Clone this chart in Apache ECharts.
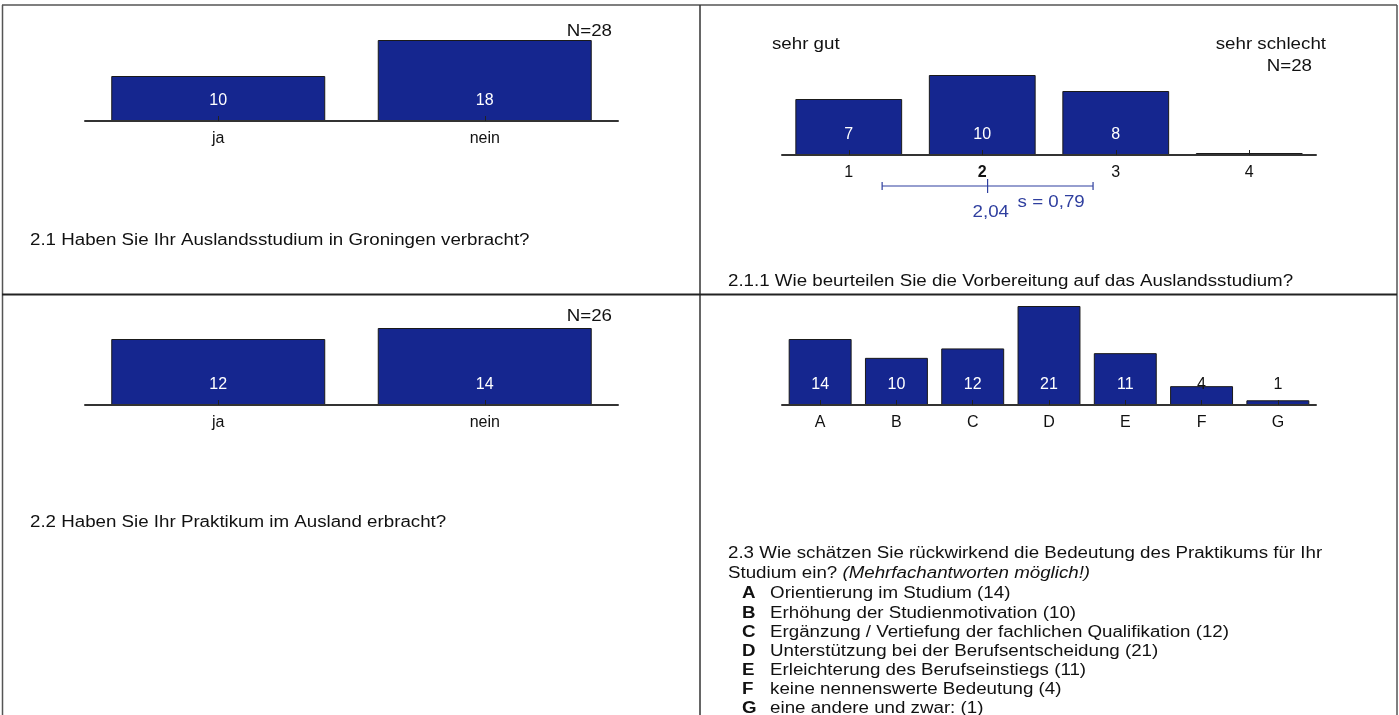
<!DOCTYPE html>
<html>
<head>
<meta charset="utf-8">
<script src="https://cdn.jsdelivr.net/npm/echarts@6/dist/echarts.min.js"></script>
<style>
html,body{margin:0;padding:0;background:#fff;}
#chart{width:1399px;height:715px;}
</style>
</head>
<body>
<div id="chart"></div>
<script>
// ---- data ----
const q21Title = '2.1 Haben Sie Ihr Auslandsstudium in Groningen verbracht?';
const q21Cats = ['ja', 'nein'];
const q21Vals = [10, 18];
const q21N = 'N=28';

const q211Title = '2.1.1 Wie beurteilen Sie die Vorbereitung auf das Auslandsstudium?';
const q211Cats = ['1', '2', '3', '4'];
const q211Vals = [7, 10, 8, 0];
const q211N = 'N=28';
const q211Left = 'sehr gut';
const q211Right = 'sehr schlecht';
const q211Mean = 2.04;
const q211Sd = 0.79;
const q211MeanLabel = '2,04';
const q211SdLabel = 's = 0,79';

const q22Title = '2.2 Haben Sie Ihr Praktikum im Ausland erbracht?';
const q22Cats = ['ja', 'nein'];
const q22Vals = [12, 14];
const q22N = 'N=26';

const q23TitleLine1 = '2.3 Wie schätzen Sie rückwirkend die Bedeutung des Praktikums für Ihr';
const q23TitleLine2a = 'Studium ein? ';
const q23TitleLine2b = '(Mehrfachantworten möglich!)';
const q23Cats = ['A', 'B', 'C', 'D', 'E', 'F', 'G'];
const q23Vals = [14, 10, 12, 21, 11, 4, 1];
const q23Texts = [
  'Orientierung im Studium (14)',
  'Erhöhung der Studienmotivation (10)',
  'Ergänzung / Vertiefung der fachlichen Qualifikation (12)',
  'Unterstützung bei der Berufsentscheidung (21)',
  'Erleichterung des Berufseinstiegs (11)',
  'keine nennenswerte Bedeutung (4)',
  'eine andere und zwar: (1)'
];

// ---- styling ----
const FONT = '"Liberation Sans", Arial, Helvetica, sans-serif';
const FS = 16;
const SX = 1.17;           // horizontal stretch of the text in the reference
const BAR = '#15268F';
const TXT = '#111';
const BLUE = '#2f3f9f';

const chart = echarts.init(document.getElementById('chart'), null, {renderer: 'canvas'});

function catAxis(gridIndex, cats, boldIdx) {
  return {
    type: 'category', gridIndex: gridIndex, z: 5,
    data: cats.map((c, i) => i === boldIdx ? {value: c, textStyle: {fontWeight: 'bold'}} : c),
    axisLine: {show: true, lineStyle: {color: '#333', width: 2}},
    axisTick: {show: true, alignWithLabel: true, inside: true, length: 5, lineStyle: {color: '#222', width: 1}},
    axisLabel: {color: TXT, fontSize: FS, fontFamily: FONT, margin: 10},
    splitLine: {show: false}
  };
}
function valAxis(gridIndex, max) {
  return {type: 'value', gridIndex: gridIndex, min: 0, max: max, show: false, splitLine: {show: false}};
}
function barSeries(idx, vals, gap, darkBelow) {
  return {
    type: 'bar', xAxisIndex: idx, yAxisIndex: idx, barCategoryGap: gap, barMinHeight: 2,
    data: vals.map(v => ({
      value: v,
      label: {color: (darkBelow && v < darkBelow) ? '#111' : '#fff'}
    })),
    itemStyle: {color: BAR, borderColor: '#1a1a1a', borderWidth: 1},
    label: {
      show: true, position: 'insideBottom', distance: 12,
      fontSize: FS, fontFamily: FONT,
      formatter: p => (p.value === 0 ? '' : String(p.value))
    },
    emphasis: {disabled: true},
    silent: true, animation: false
  };
}

function txt(x, y, text, align, extra) {
  return {
    type: 'text', x: x, y: y, scaleX: SX,
    style: Object.assign({text: text, fontSize: FS, fontFamily: FONT, fill: TXT, align: align || 'left', verticalAlign: 'middle'}, extra || {})
  };
}
function ln(x1, y1, x2, y2, w, c) {
  return {type: 'line', shape: {x1: x1, y1: y1, x2: x2, y2: y2}, style: {stroke: c || '#444', lineWidth: w || 1.5}, silent: true};
}

const listItems = q23Cats.map((c, i) => ({
  type: 'text', x: 742, y: 594 + i * 19.1, scaleX: SX,
  style: {
    text: '{b|' + c + '}{n|' + q23Texts[i] + '}',
    verticalAlign: 'middle',
    rich: {
      b: {fontWeight: 'bold', fontSize: FS, fontFamily: FONT, fill: TXT, width: 24},
      n: {fontSize: FS, fontFamily: FONT, fill: TXT}
    }
  }
}));

const option = {
  backgroundColor: '#fff',
  animation: false,
  grid: [
    {left: 85, width: 533, top: 31, height: 90},
    {left: 782, width: 534, top: 75, height: 80},
    {left: 85, width: 533, top: 317, height: 88},
    {left: 782, width: 534, top: 306, height: 99},
    {left: 782, width: 534, top: 176, height: 20}
  ],
  xAxis: [
    catAxis(0, q21Cats),
    catAxis(1, q211Cats, 1),
    catAxis(2, q22Cats),
    catAxis(3, q23Cats),
    {type: 'value', gridIndex: 4, min: 0.5, max: 4.5, show: false}
  ],
  yAxis: [
    valAxis(0, 20),
    valAxis(1, 10),
    valAxis(2, 16),
    valAxis(3, 21),
    {type: 'value', gridIndex: 4, min: -1, max: 1, show: false}
  ],
  series: [
    barSeries(0, q21Vals, '19.7%'),
    barSeries(1, q211Vals, '20%'),
    barSeries(2, q22Vals, '19.7%'),
    barSeries(3, q23Vals, '17.5%', 5),
    {
      type: 'custom', xAxisIndex: 4, yAxisIndex: 4, silent: true,
      data: [[q211Mean, 0]],
      renderItem: function (params, api) {
        const c = api.coord([q211Mean, 0]);
        const l = api.coord([q211Mean - q211Sd, 0]);
        const r = api.coord([q211Mean + q211Sd, 0]);
        const st = {stroke: BLUE, lineWidth: 1.2};
        return {
          type: 'group',
          children: [
            {type: 'line', shape: {x1: l[0], y1: c[1], x2: r[0], y2: c[1]}, style: st},
            {type: 'line', shape: {x1: l[0], y1: c[1] - 4, x2: l[0], y2: c[1] + 4}, style: st},
            {type: 'line', shape: {x1: r[0], y1: c[1] - 4, x2: r[0], y2: c[1] + 4}, style: st},
            {type: 'line', shape: {x1: c[0], y1: c[1] - 7, x2: c[0], y2: c[1] + 7}, style: st},
            {type: 'text', x: c[0] - 15, y: c[1] + 27, scaleX: SX, style: {text: q211MeanLabel, fill: BLUE, fontSize: FS, fontFamily: FONT, verticalAlign: 'middle'}},
            {type: 'text', x: c[0] + 30, y: c[1] + 17, scaleX: SX, style: {text: q211SdLabel, fill: BLUE, fontSize: FS, fontFamily: FONT, verticalAlign: 'middle'}}
          ]
        };
      }
    }
  ],
  graphic: [
    ln(2, 5, 1397, 5, 1.5, '#555'),
    ln(2.5, 5, 2.5, 715, 1.5, '#555'),
    ln(1397, 5, 1397, 715, 1.5, '#555'),
    ln(700, 5, 700, 715, 1.5, '#333'),
    ln(2, 294.5, 1397, 294.5, 2, '#222'),
    txt(612, 32, q21N, 'right'),
    txt(30, 241, q21Title),
    txt(772, 45, q211Left),
    txt(1326, 45, q211Right, 'right'),
    txt(1312, 67, q211N, 'right'),
    txt(728, 282, q211Title),
    txt(612, 317, q22N, 'right'),
    txt(30, 523, q22Title),
    txt(728, 554, q23TitleLine1),
    {
      type: 'text', x: 728, y: 574, scaleX: SX,
      style: {
        text: '{n|' + q23TitleLine2a + '}{i|' + q23TitleLine2b + '}',
        verticalAlign: 'middle',
        rich: {
          n: {fontSize: FS, fontFamily: FONT, fill: TXT},
          i: {fontSize: FS, fontFamily: FONT, fill: TXT, fontStyle: 'italic'}
        }
      }
    }
  ].concat(listItems)
};
chart.setOption(option);
</script>
</body>
</html>
